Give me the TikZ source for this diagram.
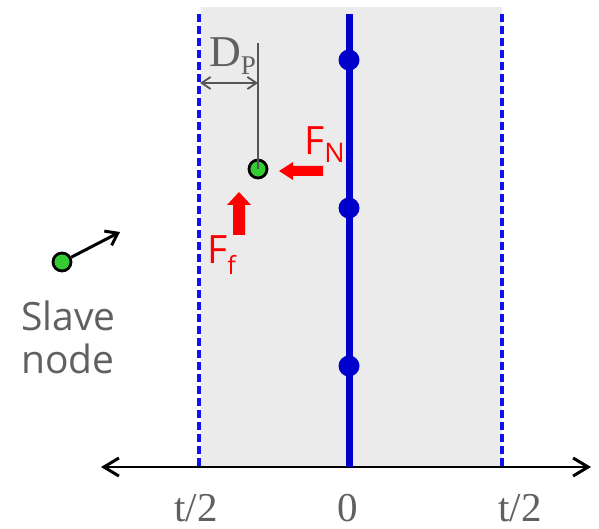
\documentclass[tikz,border=0pt]{standalone}
\usepackage{fontspec}
\setmainfont{Liberation Serif}
\newfontfamily\osans{Open Sans}
\usetikzlibrary{arrows.meta}
\definecolor{bgray}{HTML}{EBEBEB}
\definecolor{tgray}{HTML}{606060}
\definecolor{lgray}{HTML}{555555}
\definecolor{wblue}{HTML}{0000CC}
\definecolor{dblue}{HTML}{1010F0}
\definecolor{ngreen}{HTML}{33CC33}
\begin{document}
\begin{tikzpicture}[x=1pt,y=-1pt,
  greennode/.style={circle,fill=ngreen,draw=black,line width=2.8pt,minimum size=18pt,inner sep=0pt},
  bluedot/.style={circle,fill=wblue,minimum size=21pt,inner sep=0pt},
  wallline/.style={dblue,line width=3.4pt,dash pattern=on 8pt off 4pt},
  redarrow/.style={fill=red},
  serlab/.style={text=tgray,inner sep=0pt,font=\fontsize{41}{41}\selectfont},
  sanslab/.style={inner sep=0pt,font=\osans\fontsize{39}{43}\selectfont}]
\useasboundingbox (0,0) rectangle (599,529);
% grey band
\fill[bgray] (201,7) rectangle (502,467);
% dashed walls
\coordinate (wlt) at (199,14); \coordinate (wlb) at (199,467);
\coordinate (wrt) at (502,14); \coordinate (wrb) at (502,467);
\draw[wallline] (wlt) -- (wlb);
\draw[wallline] (wrt) -- (wrb);
% axis
\coordinate (axl) at (101,467); \coordinate (axr) at (591,467);
\draw[line width=2.2pt,{Straight Barb[length=15pt,width=18pt,line width=3pt]}-{Straight Barb[length=15pt,width=18pt,line width=3pt]}] (axl) -- (axr);
% master segment
\coordinate (mt) at (349,14); \coordinate (mb) at (349,467);
\draw[wblue,line width=7pt] (mt) -- (mb);
\node[bluedot] (m1) at (349,60) {};
\node[bluedot] (m2) at (349,208) {};
\node[bluedot] (m3) at (349,366) {};
% axis labels
\node[serlab,anchor=base] (tl) at (196,521) {t/2};
\node[serlab,anchor=base] (t0) at (348,521) {0};
\node[serlab,anchor=base] (tr) at (520,521) {t/2};
% penetrated slave node
\node[greennode] (gn) at (258,169) {};
\coordinate (gtop) at (258,43);
\draw[lgray,line width=1.3pt] (gtop) -- (gn.center);
\coordinate (dl) at (200,83); \coordinate (dr) at (258,83);
\draw[lgray,line width=1.4pt,{Straight Barb[length=9pt,width=12pt,line width=1.8pt]}-{Straight Barb[length=9pt,width=12pt,line width=1.8pt]}] (dl) -- (dr);
\node[serlab,anchor=base west,font=\fontsize{44}{44}\selectfont] (dp) at (209,67) {D\raisebox{-8pt}{\fontsize{27}{27}\selectfont P}};
% normal force
\fill[redarrow] (279,171) -- (293,162) -- (293,166) -- (323,166) -- (323,176) -- (293,176) -- (293,180) -- cycle;
\node[sanslab,text=red,anchor=base west] (fn) at (304,155) {F\raisebox{-8pt}{\fontsize{27}{27}\selectfont N}};
% friction force
\fill[redarrow] (239,192) -- (251,205) -- (245,205) -- (245,235) -- (233,235) -- (233,205) -- (227,205) -- cycle;
\node[sanslab,text=red,anchor=base west] (ff) at (207,263) {F\raisebox{-11pt}{\fontsize{25}{25}\selectfont f}};
% slave node
\node[greennode] (sn) at (62,262) {};
\coordinate (sa) at (120,232);
\draw[line width=3pt,-{Straight Barb[length=11pt,width=16pt,line width=3pt]}] (sn) -- (sa);
\node[sanslab,text=tgray,align=left,anchor=base west] (sl) at (21,373) {Slave\\node};
\end{tikzpicture}
\end{document}
